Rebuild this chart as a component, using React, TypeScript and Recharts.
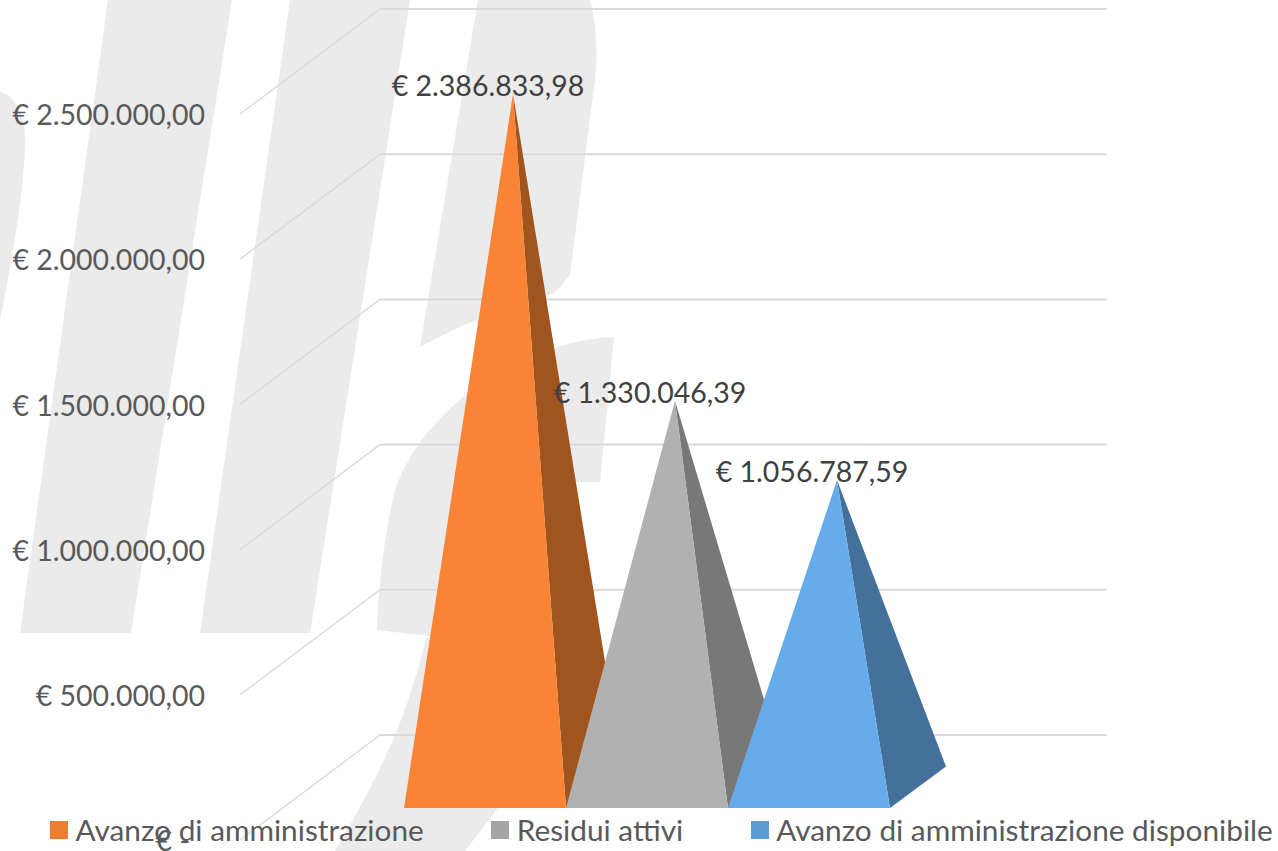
import React from 'react';
import { BarChart, Bar, XAxis, YAxis, Legend, LabelList, CartesianGrid } from 'recharts';

const FONT = 'Lato, "Open Sans", sans-serif';

const category = ['Rendiconto'];
const seriesNames = ['Avanzo di amministrazione', 'Residui attivi', 'Avanzo di amministrazione disponibile'];
const seriesValues = [2386833.98, 1330046.39, 1056787.59];
const legendColors = ['#ED7D31', '#A5A5A5', '#5B9BD5'];
const frontColors = ['#F98436', '#B1B1B1', '#67ABEA'];
const sideColors = ['#A0541E', '#787878', '#44719B'];
const tickValues = [0, 500000, 1000000, 1500000, 2000000, 2500000];
const tickLabels = ['€ -', '€ 500.000,00', '€ 1.000.000,00', '€ 1.500.000,00', '€ 2.000.000,00', '€ 2.500.000,00'];

const chartData = category.map((name) => {
  const row: Record<string, string | number> = { name };
  seriesNames.forEach((s, i) => {
    row[s] = seriesValues[i];
  });
  return row;
});

const WATERMARK = [
  'M108,0 L232,0 L131,633 L20,633 Z',
  'M290,0 L410,0 L310,633 L200,633 Z',
  'M478,0 L590,0 C596,20 598,50 595,80 L570,275 L555,293 C510,305 460,325 420,347 Z',
  'M0,92 C15,95 25,115 25,140 C25,190 10,270 0,320 Z',
  'M614,337 C580,338 540,350 500,372 C450,400 410,445 395,490 C385,530 378,590 377,630 L430,636 L540,640 L565,482 L600,482 Z',
  'M426,638 L540,640 L498,808 L465,851 L335,851 C370,790 405,730 426,638 Z',
];

const depthX = 140;
const depthY = 105;
const barShiftX = 43;
const frontLift = 32;
const centerLift = 53;
const sideDX = 56;
const sideDY = 41.5;

const fmtValue = (v: number) => {
  const [i, d] = v.toFixed(2).split('.');
  return `€ ${i.replace(/\B(?=(\d{3})+(?!\d))/g, '.')},${d}`;
};

const Pyramid = (index: number) => (props: any) => {
  const { x, y, width, height } = props;
  const bottom = y + height;
  const left = x + barShiftX;
  const right = left + width;
  const fy = bottom - frontLift;
  const ax = left + width / 2 + sideDX / 2;
  const ay = y - centerLift;
  return (
    <g>
      <polygon points={`${right},${fy} ${right + sideDX},${fy - sideDY} ${ax},${ay}`} fill={sideColors[index]} />
      <polygon points={`${left},${fy} ${right},${fy} ${ax},${ay}`} fill={frontColors[index]} />
    </g>
  );
};

const ValueLabel = (props: any) => {
  const { x, y, width, value } = props;
  return (
    <text
      x={x + barShiftX + width / 2 + 3}
      y={y - centerLift - 5}
      textAnchor="middle"
      dominantBaseline="middle"
      fontFamily={FONT}
      fontSize={28.5}
      fill="#404040"
    >
      {fmtValue(Number(value))}
    </text>
  );
};

const GridLine = (props: any) => {
  const { x1, x2, y1, index } = props;
  return (
    <g key={index}>
      <line x1={x1} y1={y1} x2={x1 + depthX} y2={y1 - depthY} stroke="#D9D9D9" strokeWidth={1.4} />
      <line x1={x1 + depthX} y1={y1 - depthY} x2={x2 + depthX} y2={y1 - depthY} stroke="#D9D9D9" strokeWidth={2} />
    </g>
  );
};

const AxisTick = (props: any) => {
  const { y, payload, index } = props;
  const isZero = payload.value === 0;
  return (
    <text
      x={isZero ? 190 : 205}
      y={y + 4}
      textAnchor="end"
      dominantBaseline="middle"
      fontFamily={FONT}
      fontSize={28.5}
      fill="#595959"
    >
      {tickLabels[tickValues.indexOf(payload.value)] ?? tickLabels[index]}
    </text>
  );
};

const LegendContent = (props: any) => (
  <div style={{ display: 'flex', gap: 67.5, fontFamily: FONT, fontSize: 29.8, color: '#595959', whiteSpace: 'nowrap', lineHeight: '36px' }}>
    {(props.payload ?? []).map((p: any) => (
      <div key={p.value} style={{ display: 'flex', alignItems: 'center', gap: 7.5 }}>
        <span style={{ display: 'inline-block', width: 18, height: 18, background: p.color }} />
        <span>{p.value}</span>
      </div>
    ))}
  </div>
);

export default function App() {
  return (
    <div style={{ position: 'absolute', left: 0, top: 0, width: 1278, height: 851, overflow: 'hidden', background: '#fff' }}>
      <svg width={1278} height={851} style={{ position: 'absolute', left: 0, top: 0 }}>
        {WATERMARK.map((d) => (
          <path key={d} d={d} fill="#EBEBEB" />
        ))}
      </svg>
      <div style={{ position: 'absolute', left: 0, top: 0 }}>
        <BarChart
          width={1278}
          height={851}
          data={chartData}
          margin={{ top: 114, right: 311, bottom: 11, left: 0 }}
          barSize={162}
          barGap={0}
        >
          <CartesianGrid vertical={false} horizontal={(p: any) => <GridLine {...p} />} />
          <XAxis dataKey="name" hide />
          <YAxis
            width={240}
            domain={[0, 2500000]}
            ticks={tickValues}
            interval={0}
            axisLine={false}
            tickLine={false}
            tick={<AxisTick />}
          />
          <Legend
            layout="horizontal"
            verticalAlign="middle"
            align="center"
            itemSorter={null}
            content={<LegendContent />}
            wrapperStyle={{ position: 'absolute', left: 50, top: 812, width: 1228 }}
          />
          {seriesNames.map((s, i) => (
            <Bar key={s} dataKey={s} name={s} fill={legendColors[i]} isAnimationActive={false} shape={Pyramid(i)}>
              <LabelList dataKey={s} content={<ValueLabel />} />
            </Bar>
          ))}
        </BarChart>
      </div>
    </div>
  );
}
